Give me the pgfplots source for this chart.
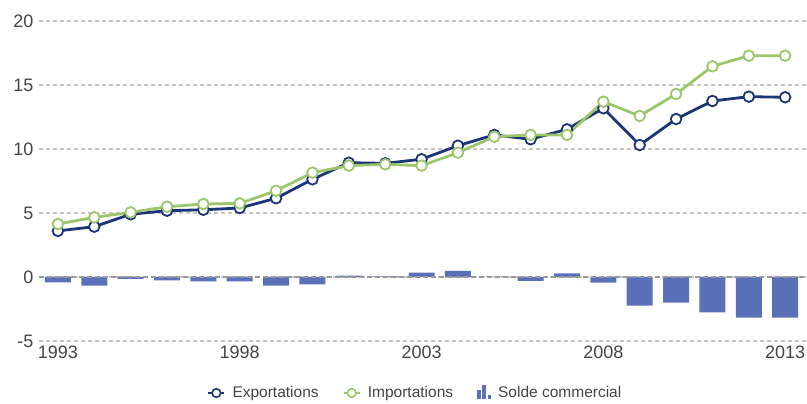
\documentclass[border=0pt]{standalone}
\usepackage{pgfplots}
\pgfplotsset{compat=1.18}
\usepackage{fontspec}
\setmainfont{Liberation Sans}
\definecolor{navy}{HTML}{1B3576}
\definecolor{lgreen}{HTML}{9CC66B}
\definecolor{barblue}{HTML}{5A70B8}
\definecolor{txt}{HTML}{454545}
\begin{document}
\begin{tikzpicture}
\useasboundingbox (0,0) rectangle (807pt,404pt);
\begin{axis}[
  at={(39pt,63pt)}, anchor=south west,
  scale only axis, width=768pt, height=320pt,
  xmin=1992.48, xmax=2013.6, ymin=-5, ymax=20,
  xtick={1993,1998,2003,2008,2013},
  ytick={-5,0,5,10,15,20},
  major tick length=0pt,
  axis line style={draw=none},
  ymajorgrids,
  grid style={color=black!22, line width=1.1pt, dash pattern=on 4pt off 3pt},
  /pgf/number format/assume math mode=true,
  /pgf/number format/1000 sep={},
  tick label style={font=\fontsize{18}{18}\selectfont, text=txt},
  yticklabel style={xshift=-2pt},
  xticklabel style={yshift=-1pt},
  clip=false,
  legend columns=3,
  legend style={at={(0.49,-0.1625)}, anchor=center, draw=none, fill=none,
    font=\fontsize{15.5}{15.5}\selectfont, text=txt,
    /tikz/every odd column/.append style={column sep=5pt},
    /tikz/every even column/.append style={column sep=22pt}},
]
\addplot[color=navy, line width=2.8pt, mark=*, mark size=5.3pt,
  mark options={fill=white, draw=navy, line width=1.8pt},
  legend image code/.code={
    \draw[navy, line width=2.2pt] (0pt,0pt) -- (16pt,0pt);
    \draw[navy, fill=white, line width=1.6pt] (8pt,0pt) circle (4.3pt);}]
  coordinates {(1993,3.6) (1994,3.93) (1995,4.9) (1996,5.18) (1997,5.25) (1998,5.39)
  (1999,6.15) (2000,7.63) (2001,8.93) (2002,8.88) (2003,9.2) (2004,10.26)
  (2005,11.1) (2006,10.76) (2007,11.54) (2008,13.18) (2009,10.31) (2010,12.34)
  (2011,13.75) (2012,14.09) (2013,14.04)};
\addlegendentry{Exportations}
\addplot[color=lgreen, line width=2.8pt, mark=*, mark size=5.3pt,
  mark options={fill=white, draw=lgreen, line width=1.8pt},
  legend image code/.code={
    \draw[lgreen, line width=2.2pt] (0pt,0pt) -- (16pt,0pt);
    \draw[lgreen, fill=white, line width=1.6pt] (8pt,0pt) circle (4.3pt);}]
  coordinates {(1993,4.14) (1994,4.66) (1995,5.05) (1996,5.49) (1997,5.7) (1998,5.75)
  (1999,6.74) (2000,8.15) (2001,8.7) (2002,8.8) (2003,8.7) (2004,9.71)
  (2005,10.96) (2006,11.1) (2007,11.1) (2008,13.7) (2009,12.58) (2010,14.3)
  (2011,16.46) (2012,17.29) (2013,17.29)};
\addlegendentry{Importations}
\addplot[ybar, bar width=26pt, fill=barblue, draw=none,
  legend image code/.code={
    \fill[barblue] (0pt,-6pt) rectangle (3.6pt,3pt);
    \fill[barblue] (5.2pt,-6pt) rectangle (8.8pt,8pt);
    \fill[barblue] (10.4pt,-6pt) rectangle (14pt,-2.5pt);}]
  coordinates {(1993,-0.42) (1994,-0.67) (1995,-0.15) (1996,-0.27) (1997,-0.35) (1998,-0.35)
  (1999,-0.67) (2000,-0.57) (2001,0.1) (2002,0.04) (2003,0.35) (2004,0.48)
  (2005,0.02) (2006,-0.3) (2007,0.29) (2008,-0.44) (2009,-2.24) (2010,-2.0)
  (2011,-2.76) (2012,-3.18) (2013,-3.18)};
\addlegendentry{Solde commercial}
\draw[color=black!40, line width=1.8pt, dash pattern=on 5pt off 3pt]
  (axis cs:1992.48,0) -- (axis cs:2013.6,0);
\end{axis}
\end{tikzpicture}
\end{document}
